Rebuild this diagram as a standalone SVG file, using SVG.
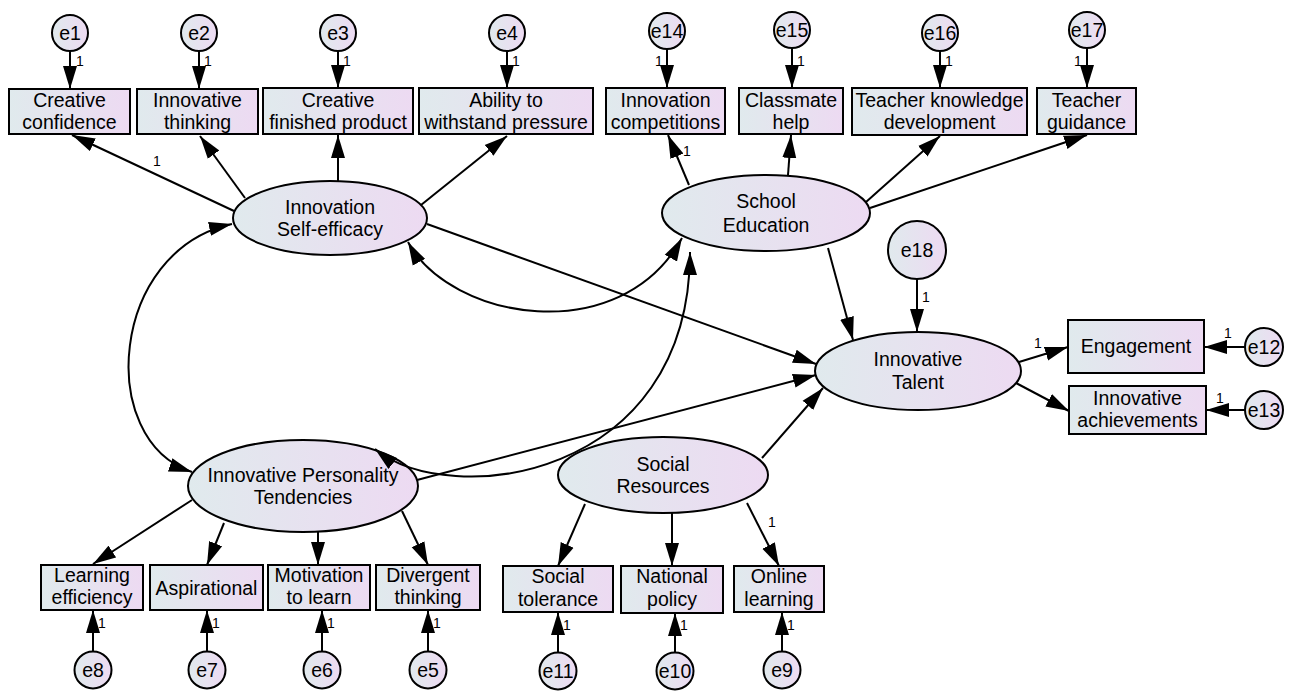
<svg xmlns="http://www.w3.org/2000/svg" width="1293" height="691" viewBox="0 0 1293 691">
<defs>
<linearGradient id="g" x1="0" y1="0" x2="1" y2="0">
<stop offset="0" stop-color="#e0eaed"/>
<stop offset="1" stop-color="#eddaf2"/>
</linearGradient>
<marker id="ar" markerUnits="userSpaceOnUse" markerWidth="24" markerHeight="15" refX="23" refY="7.5" orient="auto-start-reverse" viewBox="0 0 24 15">
<path d="M0,0.5 L23,7.5 L0,14.5 Z" fill="#000"/>
</marker>
<style>
.n{fill:url(#g);stroke:#000;stroke-width:2}
.t{font-family:"Liberation Sans",Arial,sans-serif;font-size:19.5px;text-anchor:middle;fill:#000}
.o{font-family:"Liberation Sans",Arial,sans-serif;font-size:14px;fill:#000}
.c path,.c line{fill:none;stroke:#000;stroke-width:2;marker-end:url(#ar)}
.c .cv{marker-start:url(#ar)}
</style>
</defs>
<rect width="1293" height="691" fill="#fff"/>

<!-- top error circles -->
<g id="e1"><circle class="n" cx="70" cy="33" r="18"/><text class="t" x="70" y="40">e1</text></g>
<g id="e2"><circle class="n" cx="199" cy="33" r="18"/><text class="t" x="199" y="40">e2</text></g>
<g id="e3"><circle class="n" cx="338" cy="33" r="18"/><text class="t" x="338" y="40">e3</text></g>
<g id="e4"><circle class="n" cx="507" cy="33" r="18"/><text class="t" x="507" y="40">e4</text></g>
<g id="e14"><circle class="n" cx="667" cy="31" r="18"/><text class="t" x="667" y="38">e14</text></g>
<g id="e15"><circle class="n" cx="792" cy="30" r="18"/><text class="t" x="792" y="37">e15</text></g>
<g id="e16"><circle class="n" cx="940" cy="33" r="18"/><text class="t" x="940" y="40">e16</text></g>
<g id="e17"><circle class="n" cx="1087" cy="30" r="18"/><text class="t" x="1087" y="37">e17</text></g>

<!-- top indicator boxes -->
<g id="creative-confidence"><rect class="n" x="9" y="89" width="121" height="45"/><text class="t" x="69.5" y="107">Creative</text><text class="t" x="69.5" y="129">confidence</text></g>
<g id="innovative-thinking"><rect class="n" x="137" y="89" width="121" height="45"/><text class="t" x="197.5" y="107">Innovative</text><text class="t" x="197.5" y="129">thinking</text></g>
<g id="creative-finished-product"><rect class="n" x="263" y="88" width="150" height="46"/><text class="t" x="338" y="107">Creative</text><text class="t" x="338" y="129">finished product</text></g>
<g id="ability"><rect class="n" x="419" y="88" width="174" height="46"/><text class="t" x="506" y="107">Ability to</text><text class="t" x="506" y="129">withstand pressure</text></g>
<g id="innovation-competitions"><rect class="n" x="606" y="88" width="119" height="46"/><text class="t" x="665.5" y="107">Innovation</text><text class="t" x="665.5" y="129">competitions</text></g>
<g id="classmate-help"><rect class="n" x="739" y="88" width="104" height="46"/><text class="t" x="791" y="107">Classmate</text><text class="t" x="791" y="129">help</text></g>
<g id="teacher-knowledge"><rect class="n" x="852" y="88" width="175" height="47"/><text class="t" x="939.5" y="107">Teacher knowledge</text><text class="t" x="939.5" y="129">development</text></g>
<g id="teacher-guidance"><rect class="n" x="1037" y="88" width="99" height="46"/><text class="t" x="1086.5" y="107">Teacher</text><text class="t" x="1086.5" y="129">guidance</text></g>

<!-- latent variables -->
<g id="self-efficacy"><ellipse class="n" cx="330" cy="218" rx="97" ry="37"/><text class="t" x="330" y="214">Innovation</text><text class="t" x="330" y="236">Self-efficacy</text></g>
<g id="school-education"><ellipse class="n" cx="766" cy="213" rx="104" ry="38"/><text class="t" x="766" y="208">School</text><text class="t" x="766" y="232">Education</text></g>
<g id="e18"><circle class="n" cx="917" cy="250" r="29"/><text class="t" x="917" y="257">e18</text></g>
<g id="innovative-talent"><ellipse class="n" cx="918" cy="371" rx="103" ry="39"/><text class="t" x="918" y="366">Innovative</text><text class="t" x="918" y="389">Talent</text></g>
<g id="personality"><ellipse class="n" cx="303" cy="486" rx="115" ry="46"/><text class="t" x="303" y="482">Innovative Personality</text><text class="t" x="303" y="504">Tendencies</text></g>
<g id="social-resources"><ellipse class="n" cx="663" cy="475" rx="105" ry="38"/><text class="t" x="663" y="471">Social</text><text class="t" x="663" y="493">Resources</text></g>

<!-- right indicators -->
<g id="engagement"><rect class="n" x="1068" y="320" width="136" height="53"/><text class="t" x="1136" y="353">Engagement</text></g>
<g id="innovative-achievements"><rect class="n" x="1069" y="386" width="137" height="48"/><text class="t" x="1137.5" y="405">Innovative</text><text class="t" x="1137.5" y="427">achievements</text></g>
<g id="e12"><circle class="n" cx="1264" cy="347" r="19"/><text class="t" x="1264" y="354">e12</text></g>
<g id="e13"><circle class="n" cx="1264" cy="410" r="19"/><text class="t" x="1264" y="417">e13</text></g>

<!-- bottom indicators -->
<g id="learning-efficiency"><rect class="n" x="41" y="565" width="102" height="45"/><text class="t" x="92" y="582">Learning</text><text class="t" x="92" y="604">efficiency</text></g>
<g id="aspirational"><rect class="n" x="150" y="565" width="113" height="45"/><text class="t" x="206.5" y="595">Aspirational</text></g>
<g id="motivation"><rect class="n" x="268" y="565" width="102" height="45"/><text class="t" x="319" y="582">Motivation</text><text class="t" x="319" y="604">to learn</text></g>
<g id="divergent-thinking"><rect class="n" x="376" y="565" width="104" height="45"/><text class="t" x="428" y="582">Divergent</text><text class="t" x="428" y="604">thinking</text></g>
<g id="social-tolerance"><rect class="n" x="503" y="566" width="110" height="46"/><text class="t" x="558" y="583">Social</text><text class="t" x="558" y="606">tolerance</text></g>
<g id="national-policy"><rect class="n" x="621" y="566" width="102" height="47"/><text class="t" x="672" y="583">National</text><text class="t" x="672" y="606">policy</text></g>
<g id="online-learning"><rect class="n" x="734" y="566" width="90" height="46"/><text class="t" x="779" y="583">Online</text><text class="t" x="779" y="606">learning</text></g>

<!-- bottom error circles -->
<g id="e8"><circle class="n" cx="93" cy="670" r="18.5"/><text class="t" x="93" y="677">e8</text></g>
<g id="e7"><circle class="n" cx="207" cy="670" r="18.5"/><text class="t" x="207" y="677">e7</text></g>
<g id="e6"><circle class="n" cx="322" cy="670" r="18.5"/><text class="t" x="322" y="677">e6</text></g>
<g id="e5"><circle class="n" cx="428" cy="670" r="18.5"/><text class="t" x="428" y="677">e5</text></g>
<g id="e11"><circle class="n" cx="558" cy="671" r="18.5"/><text class="t" x="558" y="678">e11</text></g>
<g id="e10"><circle class="n" cx="675" cy="671" r="18.5"/><text class="t" x="675" y="678">e10</text></g>
<g id="e9"><circle class="n" cx="782" cy="670" r="18.5"/><text class="t" x="782" y="677">e9</text></g>

<g class="c" id="connectors">
<!-- error to top indicators -->
<line x1="70" y1="51" x2="70" y2="89"/>
<line x1="199" y1="51" x2="199" y2="89"/>
<line x1="338" y1="51" x2="338" y2="88"/>
<line x1="507" y1="51" x2="507" y2="88"/>
<line x1="667" y1="49" x2="667" y2="88"/>
<line x1="792" y1="48" x2="792" y2="88"/>
<line x1="940" y1="51" x2="940" y2="88"/>
<line x1="1087" y1="48" x2="1087" y2="88"/>
<!-- self-efficacy loadings -->
<line x1="234" y1="211" x2="72" y2="135"/>
<line x1="245" y1="198" x2="200" y2="136"/>
<line x1="338" y1="181" x2="338" y2="135"/>
<line x1="421" y1="205" x2="507" y2="136"/>
<!-- school loadings -->
<line x1="689" y1="185" x2="668" y2="135"/>
<line x1="788" y1="175" x2="791" y2="135"/>
<line x1="866" y1="202" x2="940" y2="136"/>
<line x1="870" y1="208" x2="1087" y2="135"/>
<!-- structural -->
<line x1="828" y1="248" x2="853" y2="340"/>
<line x1="917" y1="279" x2="917" y2="332"/>
<line x1="427" y1="224" x2="816" y2="364"/>
<line x1="417" y1="480" x2="816" y2="375"/>
<line x1="762" y1="458" x2="823" y2="388"/>
<line x1="1019" y1="362" x2="1068" y2="347"/>
<line x1="1016" y1="383" x2="1069" y2="411"/>
<line x1="1245" y1="347" x2="1204" y2="347"/>
<line x1="1245" y1="410" x2="1206" y2="410"/>
<!-- personality loadings -->
<line x1="192" y1="500" x2="93" y2="564"/>
<line x1="224" y1="523" x2="207" y2="565"/>
<line x1="318" y1="532" x2="318" y2="565"/>
<line x1="402" y1="511" x2="428" y2="565"/>
<!-- bottom errors -->
<line x1="93" y1="651" x2="93" y2="610"/>
<line x1="207" y1="651" x2="207" y2="610"/>
<line x1="322" y1="651" x2="322" y2="610"/>
<line x1="428" y1="651" x2="428" y2="610"/>
<!-- social loadings -->
<line x1="585" y1="504" x2="558" y2="566"/>
<line x1="672" y1="513" x2="672" y2="566"/>
<line x1="747" y1="503" x2="779" y2="566"/>
<line x1="558" y1="652" x2="558" y2="612"/>
<line x1="675" y1="652" x2="675" y2="613"/>
<line x1="782" y1="651" x2="782" y2="612"/>
<!-- covariances -->
<path class="cv" d="M232,224 C110,250 95,440 192,472"/>
<path class="cv" d="M408,242 C450,320 620,350 682,238"/>
<path class="cv" d="M375,449 C450,510 690,480 690,252"/>
<!-- labels -->
<text class="o" x="76" y="66">1</text>
<text class="o" x="204" y="66">1</text>
<text class="o" x="343" y="66">1</text>
<text class="o" x="512" y="66">1</text>
<text class="o" x="655" y="66">1</text>
<text class="o" x="797" y="66">1</text>
<text class="o" x="945" y="66">1</text>
<text class="o" x="1074" y="66">1</text>
<text class="o" x="153" y="166">1</text>
<text class="o" x="683" y="156">1</text>
<text class="o" x="922" y="302">1</text>
<text class="o" x="1034" y="348">1</text>
<text class="o" x="1224" y="338">1</text>
<text class="o" x="1216" y="403">1</text>
<text class="o" x="98" y="628">1</text>
<text class="o" x="212" y="628">1</text>
<text class="o" x="327" y="628">1</text>
<text class="o" x="433" y="628">1</text>
<text class="o" x="563" y="630">1</text>
<text class="o" x="680" y="630">1</text>
<text class="o" x="787" y="630">1</text>
<text class="o" x="768" y="527">1</text>
</g>
</svg>
